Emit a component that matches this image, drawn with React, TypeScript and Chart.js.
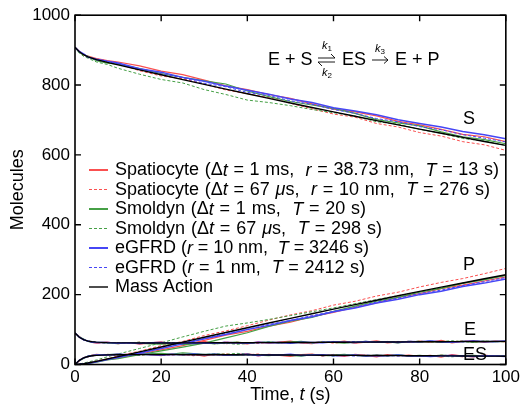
import React, { useEffect, useRef } from "react";
import { Chart, registerables } from "chart.js";

Chart.register(...registerables);

const TIMES = [0, 1, 2, 3, 5, 7.5, 10, 15, 20, 25, 30, 35, 40, 45, 50, 55, 60, 65, 70, 75, 80, 85, 90, 95, 100];
const TIMES_FINE = [0, 1, 2, 3, 4, 5, 7.5, 10, 12.5, 15, 17.5, 20, 22.5, 25, 27.5, 30, 32.5, 35, 37.5, 40, 42.5, 45, 47.5, 50, 52.5, 55, 57.5, 60, 62.5, 65, 67.5, 70, 72.5, 75, 77.5, 80, 82.5, 85, 87.5, 90, 92.5, 95, 97.5, 100];
const X_TICKS = [0, 20, 40, 60, 80, 100];
const Y_TICKS = [0, 200, 400, 600, 800, 1000];

// Substrate S (on TIMES)
const S_SPAT_1MS = [908, 896, 886, 883, 876, 870, 866, 855, 840, 830, 814, 798, 787, 773, 762, 746, 731, 723, 712, 696, 686, 673, 659, 652, 638];
const S_SPAT_67US = [908, 897, 888, 880, 875, 869, 861, 841, 826, 818, 803, 786, 775, 764, 748, 732, 717, 708, 690, 680, 664, 654, 638, 629, 613];
const S_SMOL_1MS = [908, 893, 887, 882, 870, 863, 860, 847, 833, 822, 812, 803, 783, 767, 753, 743, 733, 719, 701, 692, 683, 666, 652, 644, 632];
const S_SMOL_67US = [908, 892, 882, 877, 866, 859, 848, 831, 816, 806, 787, 773, 757, 750, 741, 730, 721, 711, 695, 688, 673, 662, 647, 640, 627];
const S_EGFRD_10NM = [908, 896, 889, 880, 874, 868, 863, 847, 837, 822, 811, 797, 785, 774, 760, 750, 735, 726, 715, 701, 690, 680, 667, 658, 646];
const S_EGFRD_1NM = [908, 895, 888, 881, 872, 867, 861, 844, 832, 821, 805, 795, 779, 770, 755, 745, 730, 719, 704, 695, 681, 672, 658, 648, 637];
const S_MASS = [908, 895.4, 886.9, 880.8, 873, 864.9, 857.6, 843.4, 829.5, 815.7, 802, 788.5, 775.1, 761.9, 748.8, 735.9, 723.1, 710.6, 698.2, 685.9, 673.8, 661.9, 650.1, 638.6, 627.2];

// Product P (on TIMES)
const P_SPAT_1MS = [0, 0.6, 2, 3, 8, 14, 18, 30, 42, 54, 69, 84, 95, 110, 121, 137, 149, 164, 176, 192, 203, 217, 227, 239, 251];
const P_SPAT_67US = [0, 0.6, 3, 5, 11, 16, 25, 38, 54, 66, 83, 96, 111, 127, 142, 154, 170, 181, 196, 207, 222, 235, 246, 260, 275];
const P_SMOL_1MS = [0, 0.6, 1, 3, 7, 13, 17, 28, 39, 50, 61, 76, 91, 109, 124, 135, 152, 167, 181, 192, 207, 218, 232, 243, 255];
const P_SMOL_67US = [0, 1.6, 4, 7, 13, 22, 30, 46, 62, 79, 95, 110, 119, 129, 140, 151, 162, 174, 186, 197, 208, 219, 233, 243, 255];
const P_EGFRD_10NM = [0, 0.6, 2, 3, 8, 14, 20, 33, 46, 59, 74, 86, 100, 112, 126, 137, 151, 162, 176, 187, 200, 210, 223, 233, 245];
const P_EGFRD_1NM = [0, 0.6, 3, 4, 9, 15, 21, 34, 47, 62, 74, 89, 100, 115, 126, 140, 152, 164, 179, 190, 203, 213, 226, 237, 249];
const P_MASS = [0, 0.6, 2.1, 4.2, 9, 15.6, 22.4, 36.3, 50.2, 64.1, 78, 91.7, 105.3, 118.8, 132.2, 145.4, 158.5, 171.4, 184.1, 196.7, 209.2, 221.4, 233.5, 245.4, 257.1];

// Enzyme E (on TIMES_FINE)
const E_SPAT_1MS = [90, 80, 70, 68, 63, 61, 64, 60, 63, 58, 62, 65, 59, 63, 61, 66, 60, 64, 62, 59, 65, 61, 64, 67, 62, 60, 65, 63, 67, 61, 64, 68, 62, 65, 63, 67, 64, 69, 62, 66, 68, 63, 67, 65];
const E_SPAT_67US = [90, 77, 72, 67, 66, 62, 61, 63, 60, 64, 59, 62, 63, 60, 65, 61, 63, 59, 64, 62, 60, 64, 61, 65, 63, 62, 66, 61, 64, 62, 66, 63, 65, 62, 67, 64, 66, 63, 65, 68, 64, 66, 65, 67];
const E_SMOL_1MS = [90, 79, 73, 66, 64, 63, 62, 60, 63, 61, 59, 58, 60, 57, 59, 61, 60, 62, 64, 61, 63, 65, 62, 64, 66, 62, 65, 63, 61, 64, 66, 63, 65, 62, 66, 64, 67, 63, 65, 67, 64, 66, 65, 66];
const E_SMOL_67US = [90, 78, 70, 68, 65, 64, 61, 63, 62, 64, 60, 62, 61, 63, 60, 62, 59, 61, 58, 60, 63, 64, 62, 65, 63, 61, 64, 66, 63, 62, 65, 64, 66, 63, 65, 67, 64, 66, 68, 65, 64, 67, 66, 65];
const E_EGFRD_10NM = [90, 78, 71, 67, 64, 63, 63, 61, 62, 60, 62, 63, 61, 62, 60, 62, 61, 63, 62, 61, 64, 62, 63, 61, 64, 63, 62, 65, 64, 63, 66, 64, 65, 63, 66, 65, 67, 65, 64, 66, 67, 65, 66, 67];
const E_EGFRD_1NM = [90, 79, 72, 66, 65, 63, 62, 63, 61, 62, 60, 63, 62, 61, 63, 61, 62, 64, 61, 63, 62, 64, 63, 62, 64, 62, 65, 63, 64, 66, 63, 65, 64, 66, 64, 65, 67, 64, 66, 65, 67, 66, 65, 66];
const E_MASS = [90, 78, 71, 67, 65, 64, 62.5, 62, 61.8, 61.7, 61.7, 61.7, 61.7, 61.8, 61.9, 62, 62.1, 62.2, 62.3, 62.4, 62.5, 62.7, 62.8, 63, 63.1, 63.3, 63.4, 63.6, 63.8, 64, 64.1, 64.3, 64.4, 64.6, 64.8, 65, 65.1, 65.3, 65.4, 65.6, 65.8, 66, 66.1, 66.3];

// Complex ES (on TIMES_FINE)
const ES_SPAT_1MS = [0, 10, 20, 22, 27, 29, 26, 30, 27, 32, 28, 25, 31, 27, 29, 24, 30, 26, 28, 31, 25, 29, 26, 23, 28, 30, 25, 27, 23, 29, 26, 22, 28, 25, 27, 23, 26, 21, 28, 24, 22, 27, 23, 25];
const ES_SPAT_67US = [0, 13, 18, 23, 24, 28, 29, 27, 30, 26, 31, 28, 27, 30, 25, 29, 27, 31, 26, 28, 30, 26, 29, 25, 27, 28, 24, 29, 26, 28, 24, 27, 25, 28, 23, 26, 24, 27, 25, 22, 26, 24, 25, 23];
const ES_SMOL_1MS = [0, 11, 17, 24, 26, 27, 28, 30, 27, 29, 31, 32, 30, 33, 31, 29, 30, 28, 26, 29, 27, 25, 28, 26, 24, 28, 25, 27, 29, 26, 24, 27, 25, 28, 24, 26, 23, 27, 25, 23, 26, 24, 25, 24];
const ES_SMOL_67US = [0, 12, 20, 22, 25, 26, 29, 27, 28, 26, 30, 28, 29, 27, 30, 28, 31, 29, 32, 30, 27, 26, 28, 25, 27, 29, 26, 24, 27, 28, 25, 26, 24, 27, 25, 23, 26, 24, 22, 25, 26, 23, 24, 25];
const ES_EGFRD_10NM = [0, 12, 19, 23, 26, 27, 27, 29, 28, 30, 28, 27, 29, 28, 30, 28, 29, 27, 28, 29, 26, 28, 27, 29, 26, 27, 28, 25, 26, 27, 24, 26, 25, 27, 24, 25, 23, 25, 26, 24, 23, 25, 24, 23];
const ES_EGFRD_1NM = [0, 11, 18, 24, 25, 27, 28, 27, 29, 28, 30, 27, 28, 29, 27, 29, 28, 26, 29, 27, 28, 26, 27, 28, 26, 28, 25, 27, 26, 24, 27, 25, 26, 24, 26, 25, 23, 26, 24, 25, 23, 24, 25, 24];
const ES_MASS = [0, 12, 19, 23, 25, 26, 27.5, 28, 28.2, 28.3, 28.3, 28.3, 28.3, 28.2, 28.1, 28, 27.9, 27.8, 27.7, 27.6, 27.5, 27.3, 27.2, 27, 26.9, 26.7, 26.6, 26.4, 26.2, 26, 25.9, 25.7, 25.6, 25.4, 25.2, 25, 24.9, 24.7, 24.6, 24.4, 24.2, 24, 23.9, 23.7];

// Legend labels: segments between underscores are italic
const LEGEND_LABELS = [
  "Spatiocyte (Δ_t_ = 1 ms,  _r_ = 38.73 nm,  _T_ = 13 s)",
  "Spatiocyte (Δ_t_ = 67 _μ_s,  _r_ = 10 nm,  _T_ = 276 s)",
  "Smoldyn (Δ_t_ = 1 ms,  _T_ = 20 s)",
  "Smoldyn (Δ_t_ = 67 _μ_s,  _T_ = 298 s)",
  "eGFRD (_r_ = 10 nm,  _T_ = 3246 s)",
  "eGFRD (_r_ = 1 nm,  _T_ = 2412 s)",
  "Mass Action",
];
const SPECIES_LABELS = ["S", "P", "E", "ES"];

const RED = "rgb(250,80,80)";
const GREEN = "rgb(70,160,70)";
const BLUE = "rgb(70,70,245)";
const BLACK = "#000";
const DASH = [3, 2];

const FONT = "'Liberation Sans', Arial, Helvetica, sans-serif";

type Series = { color: string; dash: number[]; width: number; legendWidth: number; data: number[][] };

const SERIES: Series[] = [
  { color: RED, dash: [], width: 1.2, legendWidth: 2, data: [S_SPAT_1MS, P_SPAT_1MS, E_SPAT_1MS, ES_SPAT_1MS] },
  { color: RED, dash: DASH, width: 1, legendWidth: 1, data: [S_SPAT_67US, P_SPAT_67US, E_SPAT_67US, ES_SPAT_67US] },
  { color: GREEN, dash: [], width: 1.2, legendWidth: 2, data: [S_SMOL_1MS, P_SMOL_1MS, E_SMOL_1MS, ES_SMOL_1MS] },
  { color: GREEN, dash: DASH, width: 1, legendWidth: 1, data: [S_SMOL_67US, P_SMOL_67US, E_SMOL_67US, ES_SMOL_67US] },
  { color: BLUE, dash: [], width: 1.5, legendWidth: 2, data: [S_EGFRD_10NM, P_EGFRD_10NM, E_EGFRD_10NM, ES_EGFRD_10NM] },
  { color: BLUE, dash: DASH, width: 1, legendWidth: 1, data: [S_EGFRD_1NM, P_EGFRD_1NM, E_EGFRD_1NM, ES_EGFRD_1NM] },
  { color: BLACK, dash: [], width: 1.4, legendWidth: 1.4, data: [S_MASS, P_MASS, E_MASS, ES_MASS] },
];
// time grid per species: S, P on TIMES; E, ES on TIMES_FINE
const SPECIES_TIMES = [TIMES, TIMES, TIMES_FINE, TIMES_FINE];

// Tokenize rich text into runs (italic flag) and draw with optional extra width per space
function richRuns(text: string) {
  return text.split("_").map((t, i) => ({ t, it: i % 2 === 1 }));
}

function richWidth(ctx: CanvasRenderingContext2D, text: string, size: number) {
  let w = 0;
  richRuns(text).forEach((r) => {
    ctx.font = `${r.it ? "italic " : ""}${size}px ${FONT}`;
    w += ctx.measureText(r.t).width;
  });
  return w;
}

function drawRich(ctx: CanvasRenderingContext2D, text: string, x: number, y: number, size: number, extraPerSpace = 0) {
  let cx = x;
  richRuns(text).forEach((r) => {
    ctx.font = `${r.it ? "italic " : ""}${size}px ${FONT}`;
    const words = r.t.split(" ");
    words.forEach((wd, k) => {
      if (wd) {
        ctx.fillText(wd, cx, y);
        cx += ctx.measureText(wd).width;
      }
      if (k < words.length - 1) cx += ctx.measureText(" ").width + extraPerSpace;
    });
  });
  return cx;
}

const LEGEND_END_X = [499, 490, 366, 382, 369, 365, 213];

const decorPlugin = {
  id: "decor",
  afterDraw(chart: any) {
    const ctx: CanvasRenderingContext2D = chart.ctx;
    const xs = chart.scales.x;
    const ys = chart.scales.y;
    const { left, right, top, bottom } = chart.chartArea;
    ctx.save();
    // frame
    ctx.strokeStyle = "#000";
    ctx.lineWidth = 1.6;
    ctx.setLineDash([]);
    ctx.strokeRect(left, top, right - left, bottom - top);
    // inward ticks on all sides
    const tl = 6;
    ctx.lineWidth = 1.4;
    ctx.beginPath();
    X_TICKS.forEach((v) => {
      const px = xs.getPixelForValue(v);
      ctx.moveTo(px, bottom);
      ctx.lineTo(px, bottom - tl);
      ctx.moveTo(px, top);
      ctx.lineTo(px, top + tl);
    });
    Y_TICKS.forEach((v) => {
      const py = ys.getPixelForValue(v);
      ctx.moveTo(left, py);
      ctx.lineTo(left + tl, py);
      ctx.moveTo(right, py);
      ctx.lineTo(right - tl, py);
    });
    ctx.stroke();

    // axis titles
    ctx.fillStyle = "#000";
    ctx.textBaseline = "middle";
    ctx.textAlign = "left";
    const xTitle = "Time, _t_ (s)";
    const w = richWidth(ctx, xTitle, 18);
    drawRich(ctx, xTitle, (left + right) / 2 - w / 2, 395, 18);
    ctx.save();
    ctx.translate(18, (top + bottom) / 2);
    ctx.rotate(-Math.PI / 2);
    ctx.textAlign = "center";
    ctx.font = `18px ${FONT}`;
    ctx.fillText("Molecules", 0, 0);
    ctx.restore();

    // legend
    ctx.textAlign = "left";
    ctx.textBaseline = "middle";
    LEGEND_LABELS.forEach((lab, i) => {
      const yy = 169.5 + i * 19.5;
      const s = SERIES[i];
      const ly = s.legendWidth <= 1 ? Math.round(yy) + 0.5 : Math.round(yy);
      ctx.strokeStyle = s.color;
      ctx.lineWidth = s.legendWidth;
      ctx.setLineDash(s.dash);
      ctx.beginPath();
      ctx.moveTo(89, ly);
      ctx.lineTo(108, ly);
      ctx.stroke();
      ctx.setLineDash([]);
      ctx.fillStyle = "#000";
      const x0 = 115;
      const natural = richWidth(ctx, lab, 18);
      const nSpaces = (lab.match(/ /g) || []).length;
      const extra = nSpaces > 0 ? (LEGEND_END_X[i] - x0 - natural) / nSpaces : 0;
      drawRich(ctx, lab, x0, yy + 1, 18, extra);
    });

    // species labels
    ctx.font = `18px ${FONT}`;
    ctx.fillStyle = "#000";
    ctx.textAlign = "left";
    ctx.fillText(SPECIES_LABELS[0], 463, 119);
    ctx.fillText(SPECIES_LABELS[1], 463, 265);
    ctx.fillText(SPECIES_LABELS[2], 464, 330);
    ctx.fillText(SPECIES_LABELS[3], 463, 355);

    // reaction scheme
    const by = 60;
    ctx.font = `18px ${FONT}`;
    ctx.fillText("E + S", 268, by);
    ctx.fillText("ES", 342, by);
    ctx.fillText("E + P", 395, by);
    ctx.strokeStyle = "#000";
    ctx.lineWidth = 0.9;
    ctx.beginPath();
    ctx.moveTo(318, by - 2);
    ctx.lineTo(335, by - 2);
    ctx.lineTo(331, by - 6);
    ctx.moveTo(335, by + 2);
    ctx.lineTo(318, by + 2);
    ctx.lineTo(322, by + 6);
    ctx.moveTo(372, by);
    ctx.lineTo(388, by);
    ctx.moveTo(384, by - 3.5);
    ctx.lineTo(388, by);
    ctx.lineTo(384, by + 3.5);
    ctx.stroke();
    const kLabel = (name: string, sub: string, x: number, y: number) => {
      ctx.font = `italic 11px ${FONT}`;
      ctx.fillText(name, x, y);
      const kw = ctx.measureText(name).width;
      ctx.font = `8px ${FONT}`;
      ctx.fillText(sub, x + kw, y + 3);
    };
    kLabel("k", "1", 322, 46);
    kLabel("k", "2", 322, 73);
    kLabel("k", "3", 375, 49);
    ctx.restore();
  },
};

export default function App() {
  const ref = useRef<HTMLCanvasElement | null>(null);
  useEffect(() => {
    if (!ref.current) return;
    const datasets: any[] = [];
    // first dataset is drawn on top: mass action first, red last
    const order = [6, 5, 4, 3, 2, 1, 0];
    order.forEach((si) => {
      const s = SERIES[si];
      s.data.forEach((arr, sp) => {
        const tt = SPECIES_TIMES[sp];
        datasets.push({
          data: arr.map((v, k) => ({ x: tt[k], y: v })),
          borderColor: s.color,
          borderWidth: s.width,
          borderDash: s.dash,
          pointRadius: 0,
          fill: false,
          tension: 0,
        });
      });
    });
    const chart = new Chart(ref.current, {
      type: "line",
      data: { datasets },
      plugins: [decorPlugin],
      options: {
        animation: false,
        responsive: false,
        devicePixelRatio: 1,
        layout: { padding: { left: 0, right: 16, top: 9.5, bottom: 0 } },
        plugins: { legend: { display: false }, tooltip: { enabled: false } },
        scales: {
          x: {
            type: "linear",
            min: 0,
            max: 100,
            afterFit: (s: any) => {
              s.height = 45.5;
            },
            afterBuildTicks: (s: any) => {
              s.ticks = X_TICKS.map((v) => ({ value: v }));
            },
            grid: { display: false, drawTicks: false },
            border: { display: false },
            ticks: { color: "#000", padding: 3, font: { size: 17, family: FONT }, maxRotation: 0, callback: (v: any) => String(v) },
          },
          y: {
            type: "linear",
            min: 0,
            max: 1000,
            afterFit: (s: any) => {
              s.width = 75;
            },
            afterBuildTicks: (s: any) => {
              s.ticks = Y_TICKS.map((v) => ({ value: v }));
            },
            grid: { display: false, drawTicks: false },
            border: { display: false },
            ticks: { color: "#000", padding: 5, font: { size: 17, family: FONT }, callback: (v: any) => String(v) },
          },
        },
      },
    });
    return () => chart.destroy();
  }, []);
  return (
    <div style={{ position: "absolute", left: 0, top: 0, width: 523, height: 410 }}>
      <canvas ref={ref} width={523} height={410} />
    </div>
  );
}
